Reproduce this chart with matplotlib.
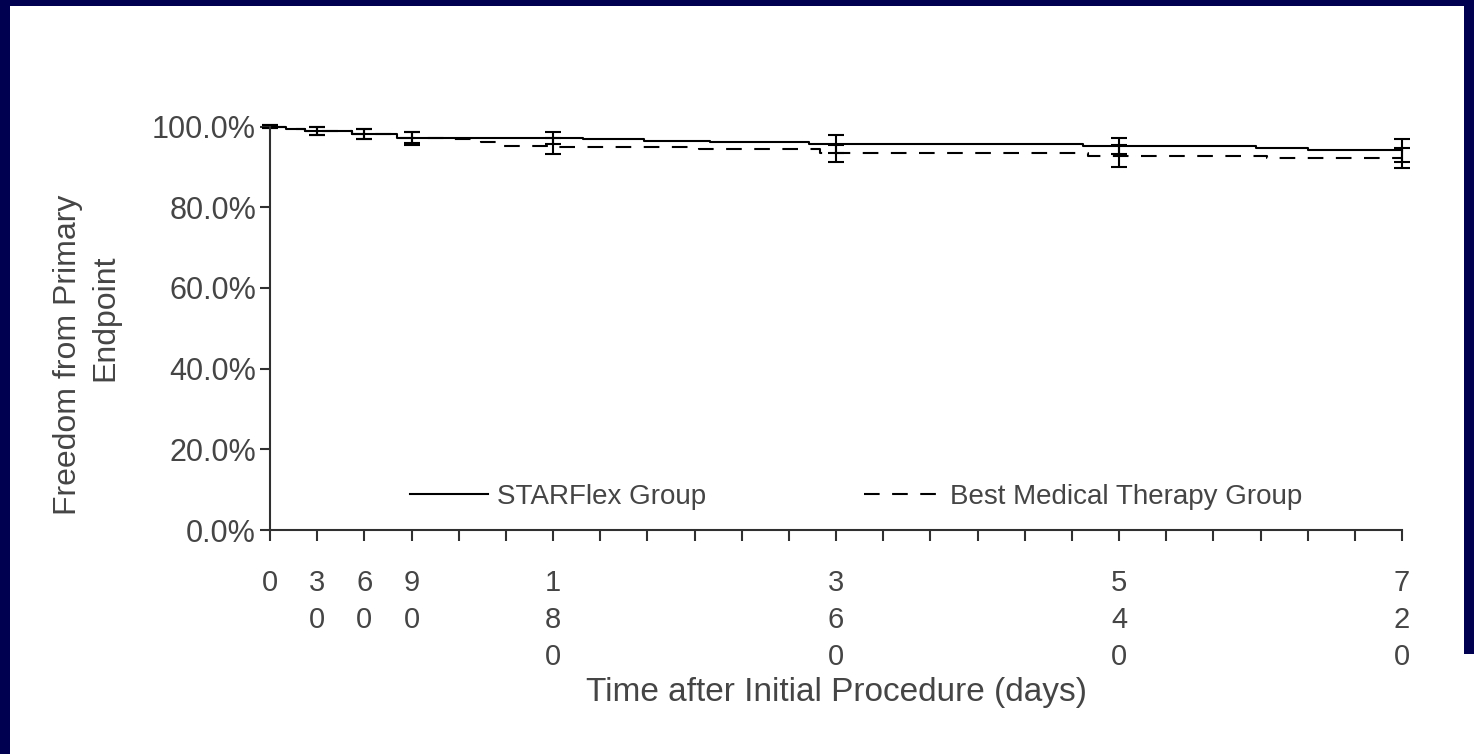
import numpy as np
import matplotlib.pyplot as plt
from matplotlib.patches import Rectangle

plt.rcParams['font.family'] = ['Liberation Sans', 'DejaVu Sans']

# Kaplan-Meier style step data (days, % free from primary endpoint)
days_sf = [0, 10, 22, 52, 81, 199, 238, 280, 343, 517, 627, 660, 720]
surv_sf = [100, 99.4, 98.9, 98.1, 97.2, 96.8, 96.4, 96.1, 95.7, 95.2, 94.6, 94.1, 94.1]

days_bmt = [0, 10, 22, 52, 81, 116, 134, 146, 181, 273, 350, 520, 634, 720]
surv_bmt = [100, 99.4, 98.9, 98.1, 97.1, 96.8, 96.2, 95.2, 94.8, 94.3, 93.4, 92.7, 92.1, 92.1]

# confidence bars
ci_days = [0, 30, 60, 90, 180, 360, 540, 720]
ci_sf_mid = [100, 98.9, 98.1, 97.2, 97.2, 95.7, 95.2, 94.1]
ci_sf_err = [0.3, 1.0, 1.2, 1.4, 1.5, 2.2, 2.0, 2.8]
ci_bmt_mid = [100, 98.9, 98.1, 97.1, 95.2, 93.4, 92.7, 92.1]
ci_bmt_err = [0.3, 1.1, 1.3, 1.6, 2.0, 2.1, 2.8, 2.5]

xtick_days = np.arange(0, 721, 30)
xlabel_days = [0, 30, 60, 90, 180, 360, 540, 720]
ytick_vals = [0, 20, 40, 60, 80, 100]

W, H = 1474, 754
fig = plt.figure(figsize=(W / 100, H / 100), dpi=100)
fig.patch.set_facecolor('#000050')
# white slide panel
fig.patches.append(Rectangle((10 / W, 0), 1 - 20 / W, 1 - 6 / H, transform=fig.transFigure,
                             facecolor='white', edgecolor='none', zorder=-5))
fig.patches.append(Rectangle((1 - 10 / W, 0), 10 / W, 100 / H, transform=fig.transFigure,
                             facecolor='white', edgecolor='none', zorder=-5))

x0, x1 = 270, 1402
y0, y1 = 530, 126.5
ax = fig.add_axes([x0 / W, 1 - y0 / H, (x1 - x0) / W, (y0 - y1) / H])
ax.set_facecolor('none')
ax.set_zorder(2)

txt = '#454545'
axc = '#303030'

ax.step(days_sf, surv_sf, where='post', color='black', lw=1.5, clip_on=False,
        label='STARFlex Group')
ax.step(days_bmt, surv_bmt, where='post', color='black', lw=1.5, clip_on=False,
        dashes=(7.5, 6), label='Best Medical Therapy Group')

ax.errorbar(ci_days, ci_sf_mid, yerr=ci_sf_err, fmt='none', ecolor='black',
            elinewidth=1.5, capsize=6, capthick=1.5, clip_on=False)
ax.errorbar(ci_days, ci_bmt_mid, yerr=ci_bmt_err, fmt='none', ecolor='black',
            elinewidth=1.5, capsize=6, capthick=1.5, clip_on=False)

ax.set_xlim(0, 720)
ax.set_ylim(0, 100)
for s in ['top', 'right']:
    ax.spines[s].set_visible(False)
for s in ['left', 'bottom']:
    ax.spines[s].set_color(axc)
    ax.spines[s].set_linewidth(1.5)

ax.set_yticks(ytick_vals)
ax.set_yticklabels(['%.1f%%' % v for v in ytick_vals])
ax.set_xticks(xtick_days)
ax.set_xticklabels(['\n'.join(str(d)) if d in xlabel_days else '' for d in xtick_days])
ax.tick_params(axis='y', direction='out', length=7, width=1.5, color=axc,
               labelsize=22, labelcolor=txt, pad=3)
ax.tick_params(axis='x', direction='out', length=8, width=1.5, color=axc,
               labelsize=21, labelcolor=txt, pad=20)
for lab in ax.get_xticklabels():
    lab.set_linespacing(1.42)

leg = ax.legend(loc='center', bbox_to_anchor=(0.518, 0.082), ncol=2, frameon=False,
                fontsize=20, handlelength=2.8, handletextpad=0.3, columnspacing=5.7,
                labelcolor=txt)

fig.text(836 / W, 1 - 693 / H, 'Time after Initial Procedure (days)', ha='center',
         va='center', fontsize=24, color=txt)
fig.text(68 / W, 1 - 355 / H, 'Freedom from Primary', ha='center', va='center',
         rotation=90, fontsize=23, color=txt)
fig.text(105 / W, 1 - 318 / H, 'Endpoint', ha='center', va='center',
         rotation=90, fontsize=23, color=txt)

fig.savefig('out.png', dpi=100, facecolor=fig.get_facecolor())
